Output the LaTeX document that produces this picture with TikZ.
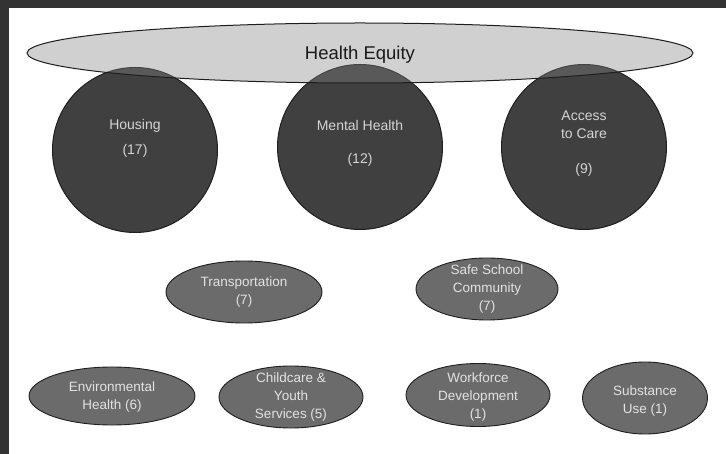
\documentclass[tikz,border=0pt]{standalone}
\usepackage{fontspec}
\setmainfont{Liberation Sans}
\usetikzlibrary{shapes.geometric}
\definecolor{framegrey}{HTML}{333333}
\definecolor{circfill}{HTML}{404040}
\definecolor{eqfill}{HTML}{848484}
\definecolor{smallfill}{HTML}{6B6B6B}
\definecolor{edgecol}{HTML}{1E1E1E}
\definecolor{lighttext}{HTML}{D4D4D4}
\definecolor{smalltext}{HTML}{E2E2E2}
\begin{document}
\begin{tikzpicture}[x=1pt,y=-1pt,
  bigcirc/.style={circle, draw=edgecol, line width=1pt, fill=circfill, minimum size=165pt, inner sep=0pt},
  eqell/.style={ellipse, draw=edgecol, line width=1pt, fill=eqfill, fill opacity=0.38, text opacity=1, minimum width=666pt, minimum height=60pt, inner sep=0pt},
  smallell/.style={ellipse, draw=edgecol, line width=0.9pt, fill=smallfill, inner sep=0pt},
  ctxt/.style={text=lighttext, font=\fontsize{14}{18}\selectfont, inner sep=0pt, align=center},
  stxt/.style={text=smalltext, font=\fontsize{13.5}{18}\selectfont, inner sep=0pt, align=center}
]
\fill[white] (0,0) rectangle (726,454);
\useasboundingbox (0,0) rectangle (726,454);
\fill[framegrey] (0,0) rectangle (726,8);
\fill[framegrey] (0,0) rectangle (9,454);

% big circles
\node[bigcirc] (housing) at (135,150) {};
\node[bigcirc] (mental) at (360,147) {};
\node[bigcirc] (access) at (584,147) {};

\node[ctxt] (housingA) at (135,126) {Housing};
\node[ctxt] (housingB) at (135,151) {(17)};
\node[ctxt] (mentalA) at (360,125) {Mental Health};
\node[ctxt] (mentalB) at (360,160) {(12)};
\node[ctxt] (accessA) at (584,125) {Access\\to Care};
\node[ctxt] (accessB) at (584,170) {(9)};

% health equity ellipse
\node[eqell] (equity) at (360,53) {};
\node[text=black!90, font=\fontsize{18.5}{22}\selectfont, inner sep=0pt] (equityT) at (360,55) {Health Equity};

% small ellipses
\node[smallell, minimum width=156pt, minimum height=62pt] (transp) at (244,292) {};
\node[stxt] (transpT) at (transp) {Transportation\\(7)};

\node[smallell, minimum width=142pt, minimum height=62pt] (safe) at (487,289) {};
\node[stxt] (safeT) at (safe) {Safe School\\Community\\(7)};

\node[smallell, minimum width=166pt, minimum height=58pt] (env) at (112,396) {};
\node[stxt] (envT) at (112,397) {Environmental\\Health (6)};

\node[smallell, minimum width=144pt, minimum height=62pt] (child) at (291,397) {};
\node[stxt] (childT) at (child) {Childcare \&\\Youth\\Services (5)};

\node[smallell, minimum width=144pt, minimum height=63pt] (work) at (478,395) {};
\node[stxt] (workT) at (478,397) {Workforce\\Development\\(1)};

\node[smallell, minimum width=125pt, minimum height=72pt] (subst) at (645,398) {};
\node[stxt] (substT) at (645,401) {Substance\\Use (1)};
\end{tikzpicture}
\end{document}
